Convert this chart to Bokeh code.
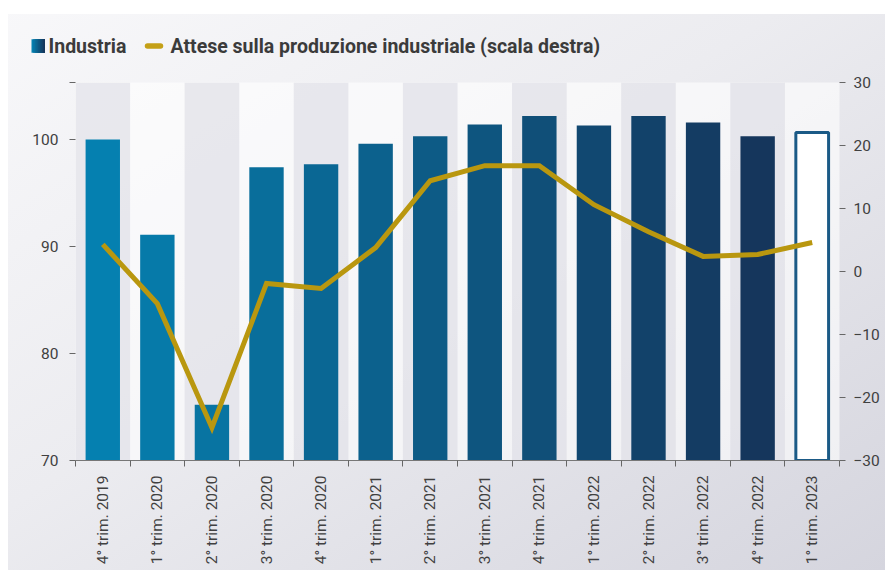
import math
from bokeh.plotting import figure
from bokeh.layouts import column
from bokeh.models import Range1d, LinearAxis, FixedTicker, ColumnDataSource
from bokeh.core.properties import value
from bokeh.embed import file_html
from bokeh.resources import INLINE

# ---- data ----
categories = ["4° trim. 2019", "1° trim. 2020", "2° trim. 2020", "3° trim. 2020",
              "4° trim. 2020", "1° trim. 2021", "2° trim. 2021", "3° trim. 2021",
              "4° trim. 2021", "1° trim. 2022", "2° trim. 2022", "3° trim. 2022",
              "4° trim. 2022", "1° trim. 2023"]
industria = [100.0, 91.1, 75.2, 97.4, 97.7, 99.6, 100.3, 101.4, 102.2, 101.3,
             102.2, 101.6, 100.3, 100.65]
attese = [4.3, -5.1, -24.8, -1.9, -2.7, 3.8, 14.4, 16.8, 16.8, 10.6, 6.3, 2.4, 2.7, 4.6]
left_ticks = [70, 80, 90, 100]
right_ticks = [-30, -20, -10, 0, 10, 20, 30]
series_names = ["Industria", "Attese sulla produzione industriale (scala destra)"]

LEFT_MIN, LEFT_MAX = 70, 105.33
RIGHT_MIN, RIGHT_MAX = -30, 30

n = len(categories)
centers = [i + 0.5 for i in range(n)]

LINE_COL = "#b9970f"
BLUE_A, BLUE_B = "#0580b0", "#15365c"


def lerp_color(c1, c2, t):
    a = [int(c1[i:i + 2], 16) for i in (1, 3, 5)]
    b = [int(c2[i:i + 2], 16) for i in (1, 3, 5)]
    return "#%02x%02x%02x" % tuple(round(a[k] + (b[k] - a[k]) * t) for k in range(3))


solid_n = n - 1
bar_colors = [lerp_color(BLUE_A, BLUE_B, i / (solid_n - 1)) for i in range(solid_n)]

W, H = 885, 570
TOP_H = 74

# ---- legend strip (screen-like coordinates) ----
pt = figure(width=W, height=TOP_H, output_backend="svg", toolbar_location=None,
            x_range=Range1d(0, W), y_range=Range1d(TOP_H, 0),
            min_border_left=0, min_border_right=0, min_border_top=0, min_border_bottom=0)
pt.frame_align = False
pt.axis.visible = False
pt.grid.visible = False
pt.outline_line_color = None
pt.background_fill_alpha = 0
pt.border_fill_alpha = 0

sw_left, sw_size, sw_mid = 31, 13.5, 45.5
slices = 8
sl_w = sw_size / slices
pt.quad(left=[sw_left + k * sl_w for k in range(slices)],
        right=[sw_left + sw_size] * slices,
        top=sw_mid - sw_size / 2, bottom=sw_mid + sw_size / 2,
        fill_color=[lerp_color(BLUE_A, BLUE_B, k / (slices - 1)) for k in range(slices)],
        line_color=None)
pt.line(x=[147, 160], y=[sw_mid, sw_mid], line_color="#c4a017", line_width=5.5,
        line_cap="round")
pt.text(x=[48, 170], y=[sw_mid, sw_mid], text=series_names,
        text_font=value("Roboto"), text_font_style="bold", text_font_size="19.5px",
        text_color="#3b3b3b", text_baseline="middle", text_align="left")

# ---- main chart ----
p = figure(width=W, height=H - TOP_H, output_backend="svg", toolbar_location=None,
           x_range=Range1d(0, n), y_range=Range1d(LEFT_MIN, LEFT_MAX),
           min_border_left=75, min_border_right=46, min_border_top=8,
           min_border_bottom=110)
p.frame_align = False
p.background_fill_color = "white"
p.background_fill_alpha = 0.6
p.border_fill_alpha = 0
p.outline_line_color = None
p.grid.visible = False
p.extra_y_ranges = {"right": Range1d(RIGHT_MIN, RIGHT_MAX)}

# alternating bands
band_x = [centers[i] for i in range(0, n, 2)]
p.vbar(x=band_x, width=1.0, top=LEFT_MAX, bottom=LEFT_MIN,
       fill_color="#d6d6e0", fill_alpha=0.5, line_color=None)

# bars
src = ColumnDataSource(dict(x=centers[:solid_n], top=industria[:solid_n], color=bar_colors))
p.vbar(x="x", top="top", bottom=LEFT_MIN, width=0.63, source=src,
       fill_color="color", line_color=None)
p.vbar(x=[centers[-1]], top=[industria[-1]], bottom=LEFT_MIN, width=0.60,
       fill_color="white", line_color="#1b5a86", line_width=3)

# line
p.line(x=centers, y=attese, y_range_name="right", line_color=LINE_COL,
       line_width=5, line_join="miter")

font = "Roboto"
lab_col = "#404040"
tick_col = "#666666"

# left axis
ya = p.yaxis[0]
ya.ticker = FixedTicker(ticks=left_ticks + [LEFT_MAX])
ya.major_label_overrides = {LEFT_MAX: ""}
ya.axis_line_color = None
ya.major_tick_out = 6
ya.major_tick_in = 0
ya.major_tick_line_color = tick_col
ya.minor_tick_line_color = None
ya.major_label_standoff = 11
ya.major_label_text_font = font
ya.major_label_text_font_size = "15.5px"
ya.major_label_text_color = lab_col

# right axis
ra = LinearAxis(y_range_name="right", ticker=FixedTicker(ticks=right_ticks))
ra.axis_line_color = None
ra.major_tick_out = 6
ra.major_tick_in = 0
ra.major_tick_line_color = tick_col
ra.minor_tick_line_color = None
ra.major_label_standoff = 8
ra.major_label_text_font = font
ra.major_label_text_font_size = "15.5px"
ra.major_label_text_color = lab_col
p.add_layout(ra, "right")

# bottom axis
xa = p.xaxis[0]
xa.ticker = FixedTicker(ticks=centers, minor_ticks=list(range(n + 1)))
xa.major_label_overrides = {c: lab for c, lab in zip(centers, categories)}
xa.major_tick_out = 0
xa.major_tick_in = 0
xa.minor_tick_out = 6
xa.minor_tick_in = 0
xa.minor_tick_line_color = tick_col
xa.axis_line_color = "#777777"
xa.major_label_orientation = math.pi / 2
xa.major_label_standoff = 9
xa.major_label_text_font = font
xa.major_label_text_font_size = "15.5px"
xa.major_label_text_color = lab_col

layout = column(pt, p, spacing=0,
                styles={"background": "linear-gradient(to bottom right, #f8f8fa 0%, "
                                      "#ececf0 45%, #d5d5de 100%)",
                        "box-shadow": "inset 8px 14px 0 0 white"})
open("out.html", "w").write(file_html(layout, INLINE))
